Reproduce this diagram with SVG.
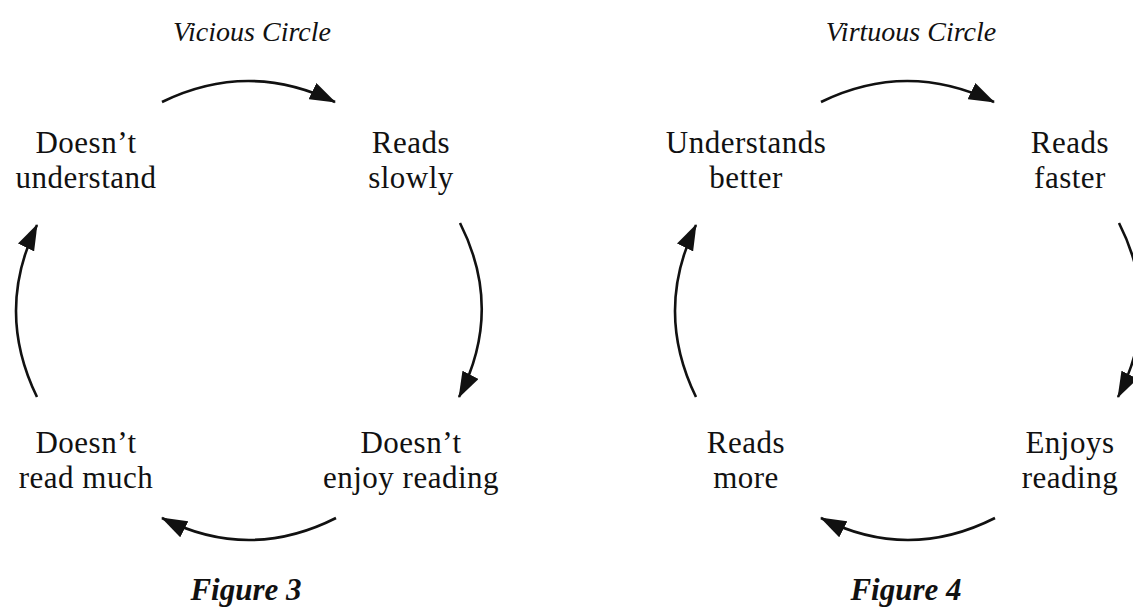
<svg xmlns="http://www.w3.org/2000/svg" width="1133" height="608" viewBox="0 0 1133 608">
<style>
  .lbl { font-family: "Liberation Serif", "Times New Roman", serif; font-size: 31px; letter-spacing: 0.5px; fill: #111; text-anchor: middle; }
  .ttl { font-family: "Liberation Serif", "Times New Roman", serif; font-size: 28px; font-style: italic; fill: #111; text-anchor: middle; }
  .fig { font-family: "Liberation Serif", "Times New Roman", serif; font-size: 31px; font-style: italic; font-weight: bold; fill: #111; text-anchor: middle; }
  .arr { fill: none; stroke: #111; stroke-width: 2.6; marker-end: url(#head); }
</style>
<defs>
  <marker id="head" viewBox="0 0 26 18" refX="25" refY="9" markerWidth="26" markerHeight="18" markerUnits="userSpaceOnUse" orient="auto">
    <path d="M0,0 L26,9 L0,18 z" fill="#111"/>
  </marker>
</defs>
<rect width="1133" height="608" fill="#fff"/>

<g id="fig3">
  <text class="ttl" x="252" y="41">Vicious Circle</text>
  <g id="n-doesnt-understand"><text class="lbl" x="86" y="153">Doesn’t</text><text class="lbl" x="86" y="188">understand</text></g>
  <g id="n-reads-slowly"><text class="lbl" x="411" y="153">Reads</text><text class="lbl" x="411" y="188">slowly</text></g>
  <g id="n-doesnt-enjoy"><text class="lbl" x="411" y="453">Doesn’t</text><text class="lbl" x="411" y="488">enjoy reading</text></g>
  <g id="n-doesnt-read"><text class="lbl" x="86" y="453">Doesn’t</text><text class="lbl" x="86" y="488">read much</text></g>
  <text class="fig" x="246" y="600">Figure 3</text>
</g>

<g id="fig4">
  <text class="ttl" x="911" y="41">Virtuous Circle</text>
  <g id="n-understands-better"><text class="lbl" x="746" y="153">Understands</text><text class="lbl" x="746" y="188">better</text></g>
  <g id="n-reads-faster"><text class="lbl" x="1070" y="153">Reads</text><text class="lbl" x="1070" y="188">faster</text></g>
  <g id="n-enjoys-reading"><text class="lbl" x="1070" y="453">Enjoys</text><text class="lbl" x="1070" y="488">reading</text></g>
  <g id="n-reads-more"><text class="lbl" x="746" y="453">Reads</text><text class="lbl" x="746" y="488">more</text></g>
  <text class="fig" x="906" y="600">Figure 4</text>
</g>

<g id="connectors">
  <path class="arr" d="M162,102 Q248,60 335,102"/>
  <path class="arr" d="M460,223 Q504,310 459,397"/>
  <path class="arr" d="M336,518 Q249,562 162,518"/>
  <path class="arr" d="M37,397 Q-5,311 37,225"/>
  <path class="arr" d="M821,102 Q907,60 994,102"/>
  <path class="arr" d="M1119,223 Q1163,310 1118,397"/>
  <path class="arr" d="M995,518 Q908,562 821,518"/>
  <path class="arr" d="M696,397 Q654,311 696,225"/>
</g>
</svg>
